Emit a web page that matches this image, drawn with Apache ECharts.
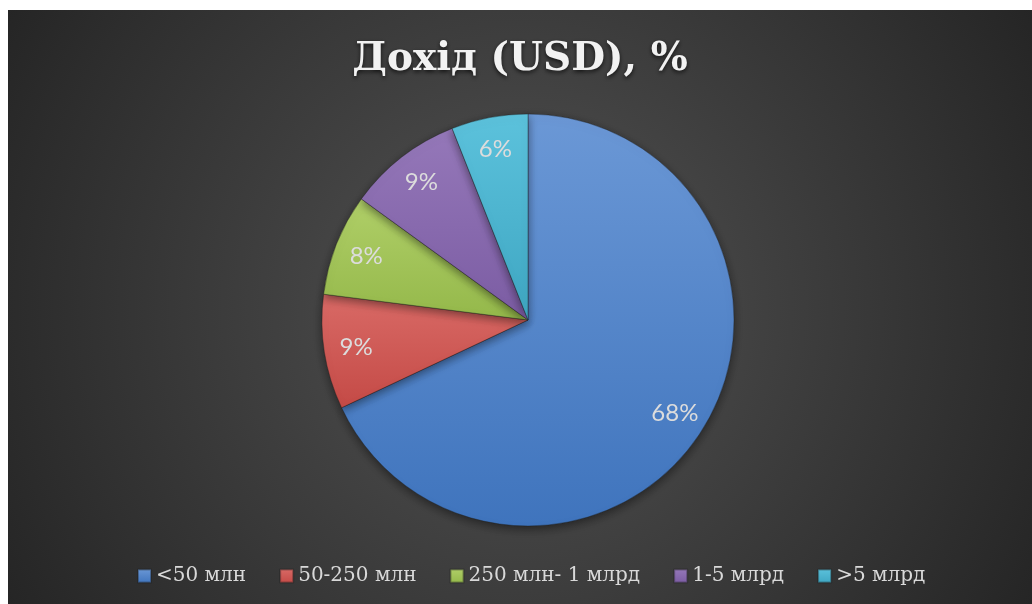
<!DOCTYPE html>
<html>
<head>
<meta charset="utf-8">
<script src="https://cdn.jsdelivr.net/npm/echarts@6/dist/echarts.min.js"></script>
<style>
  html, body { margin: 0; padding: 0; background: #ffffff; }
  #chart { position: absolute; left: 8px; top: 10px; width: 1024px; height: 594px; }
</style>
</head>
<body>
<div id="chart"></div>
<script>
// data
var categories = ['<50 млн', '50-250 млн', '250 млн- 1 млрд', '1-5 млрд', '>5 млрд'];
var shares = [68, 9, 8, 9, 6];
var sliceColors = [
  ['#6b98d6', '#3f74bd'],
  ['#d96a66', '#c44a46'],
  ['#b0cf68', '#94b84a'],
  ['#9578b9', '#7b5ca3'],
  ['#5cc2dc', '#3ea6c2']
];

var chart = echarts.init(document.getElementById('chart'));

var pieData = categories.map(function (name, i) {
  return {
    name: name,
    value: shares[i],
    itemStyle: {
      color: new echarts.graphic.LinearGradient(0, 0, 0, 1, [
        { offset: 0, color: sliceColors[i][0] },
        { offset: 1, color: sliceColors[i][1] }
      ])
    }
  };
});

var labelData = categories.map(function (name, i) {
  return { name: name, value: shares[i] };
});

var option = {
  backgroundColor: new echarts.graphic.RadialGradient(0.5, 0.5, 1, [
    { offset: 0, color: '#535353' },
    { offset: 1, color: '#252525' }
  ]),
  title: {
    text: 'Дохід (USD), %',
    left: 'center',
    top: 25,
    textStyle: {
      color: '#f2f2f2',
      fontFamily: 'DejaVu Serif',
      fontWeight: 'bold',
      fontSize: 39,
      textShadowColor: 'rgba(0,0,0,0.7)',
      textShadowBlur: 4,
      textShadowOffsetY: 2
    }
  },
  legend: {
    data: categories,
    bottom: 13,
    left: 124,
    itemWidth: 13,
    itemHeight: 13,
    itemGap: 33,
    itemTextGap: 6,
    icon: 'rect',
    textStyle: {
      color: '#d9d9d9',
      fontFamily: 'DejaVu Serif',
      fontSize: 20
    }
  },
  series: [
    {
      type: 'pie',
      center: [520, 310],
      radius: [0, 206],
      startAngle: 90,
      clockwise: true,
      silent: true,
      label: { show: false },
      labelLine: { show: false },
      itemStyle: {
        borderColor: 'rgba(30,30,30,0.35)',
        borderWidth: 0.6,
        shadowBlur: 10,
        shadowColor: 'rgba(0,0,0,0.45)',
        shadowOffsetY: 3
      },
      data: pieData
    },
    {
      type: 'pie',
      center: [520, 310],
      radius: [136, 206],
      startAngle: 90,
      clockwise: true,
      silent: true,
      itemStyle: { color: 'rgba(0,0,0,0)' },
      label: {
        show: true,
        position: 'inside',
        formatter: '{c}%',
        color: '#dcdcdc',
        fontFamily: 'Lato',
        fontSize: 24
      },
      labelLine: { show: false },
      data: labelData
    }
  ]
};

chart.setOption(option);
</script>
</body>
</html>
